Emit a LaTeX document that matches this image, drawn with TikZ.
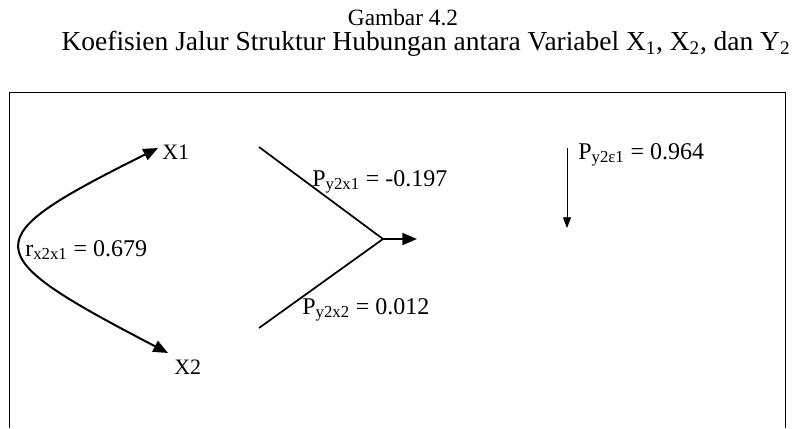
\documentclass[tikz,border=0pt]{standalone}
\usepackage{fontspec}
\setmainfont{Liberation Serif}
\usetikzlibrary{arrows.meta, positioning, calc}

\begin{document}
\begin{tikzpicture}[
    x=0.75pt, y=-0.75pt,
    title/.style={font=\fontsize{17.5}{20}\selectfont, inner sep=0pt},
    var/.style={font=\fontsize{16.5}{18}\selectfont, inner sep=0pt, anchor=west},
    coef/.style={font=\fontsize{18}{20}\selectfont, inner sep=0pt, anchor=west},
    arrow/.style={line width=1.5pt, -{Triangle[length=11pt,width=9pt]}},
    both/.style={line width=1.5pt, {Triangle[length=11pt,width=9pt]}-{Triangle[length=11pt,width=9pt]}},
    path/.style={line width=1.3pt}
]
\useasboundingbox (0,0) rectangle (805,428);

% Frame (open at the bottom of the page)
\draw[line width=0.6pt] (9,428) -- (9,92) -- (785,92) -- (785,428);

% Nodes
\node (cap) [title] at (403,18) {Gambar 4.2};
\node (head) [title, font=\fontsize{20.6}{22}\selectfont] at (426,44) {Koefisien Jalur Struktur Hubungan antara Variabel X\textsubscript{1}, X\textsubscript{2}, dan Y\textsubscript{2}};

\node (x1) [var] at (162,152) {X1};
\node (x2) [var] at (174,367) {X2};

\coordinate (a1) at (259,147);
\coordinate (a2) at (259,328);
\coordinate (y2) at (383,239);
\coordinate (yout) at (417,239);
\coordinate (e1) at (567,148);
\coordinate (e2) at (567,228);

\node (r12) [coef] at (25,250) {r\textsubscript{x2x1} = 0.679};
\node (p1) [coef] at (312,182) {P\textsubscript{y2x1} = -0.197};
\node (p2) [coef] at (302,310) {P\textsubscript{y2x2} = 0.012};
\node (pe) [coef] at (578,155) {P\textsubscript{y2ε1} = 0.964};

% Arrows
\draw [both] ($(x1.west)+(-4,-4)$) .. controls (-26,240) and (-26,252) .. ($(x2.west)+(-6,-14)$);
\draw [path] (a1) -- (y2);
\draw [path] (a2) -- (y2);
\draw [arrow] (y2) -- (yout);
\draw [line width=0.6pt, -{Triangle[length=8pt,width=6pt]}] (e1) -- (e2);

\end{tikzpicture}
\end{document}
